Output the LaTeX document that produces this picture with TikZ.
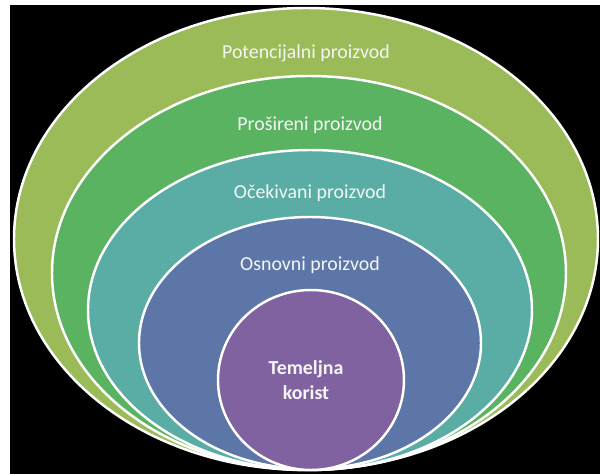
\documentclass[tikz,border=0pt]{standalone}
\usepackage{fontspec}
\setmainfont{Carlito}
\usetikzlibrary{positioning}
\definecolor{lvolive}{HTML}{9BBB59}
\definecolor{lvgreen}{HTML}{59B360}
\definecolor{lvteal}{HTML}{5AADA5}
\definecolor{lvblue}{HTML}{5D76A8}
\definecolor{lvpurple}{HTML}{8062A0}
\begin{document}
\begin{tikzpicture}[
  x=0.02cm, y=-0.02cm,
  every node/.style={text=white},
  layer/.style={fill=#1, draw=white, line width=1.4pt},
  lvlabel/.style={font=\fontsize{11.3}{14.5}\selectfont, text=white!92!gray},
]
\useasboundingbox (0,0) rectangle (600,474);
\fill[white] (0,0) rectangle (600,474);
\fill[black] (10,5) rectangle (600,474);

% levels, outer to inner
\draw[layer=lvolive] (306,239) ellipse [x radius=292, y radius=231];
\draw[layer=lvgreen] (309,273) ellipse [x radius=257, y radius=197];
\draw[layer=lvteal] (310,310) ellipse [x radius=222, y radius=160];
\draw[layer=lvblue] (310,343) ellipse [x radius=171, y radius=126];
\draw[layer=lvpurple] (311,380) ellipse [x radius=93, y radius=90];

\node[lvlabel] (potencijalni) at (306,53) {Potencijalni proizvod};
\node[lvlabel] (prosireni) at (310,125) {Prošireni proizvod};
\node[lvlabel] (ocekivani) at (310,193) {Očekivani proizvod};
\node[lvlabel] (osnovni) at (310,265) {Osnovni proizvod};
\node[lvlabel, font=\fontsize{11.3}{14.5}\selectfont\bfseries, align=center] (temeljna) at (306,380) {Temeljna\\korist};

\end{tikzpicture}
\end{document}
